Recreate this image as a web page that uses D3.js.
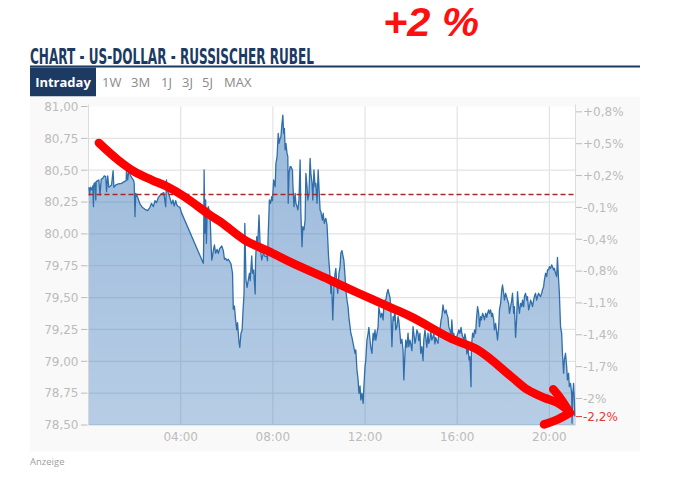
<!DOCTYPE html>
<html><head><meta charset="utf-8">
<script src="https://cdn.jsdelivr.net/npm/d3@7"></script>
<style>html,body{margin:0;padding:0;background:#fff;} svg{display:block;}</style>
</head><body>
<svg id="chart" width="680" height="492"></svg>
<script>
// ---------- data (minutes since 00:00, price RUB per USD) ----------
const quotes = [
[1,80.366],[3,80.305],[5,80.366],[8,80.345],[11,80.376],[13,80.214],[14,80.392],[17,80.402],[19,80.266],[20,80.410],
[24,80.418],[27,80.423],[30,80.305],[33,80.428],[37,80.436],[41,80.455],[45,80.449],[47,80.332],[50,80.455],[53,80.366],
[57,80.376],[60,80.384],[64,80.496],[66,80.366],[71,80.384],[78,80.392],[86,80.397],[93,80.410],[98,80.418],[99,80.502],
[102,80.423],[105,80.496],[109,80.462],[112,80.444],[117,80.423],[119,80.397],[121,80.135],[123,80.318],[128,80.287],[134,80.235],
[140,80.209],[147,80.193],[154,80.183],[160,80.209],[164,80.240],[169,80.214],[173,80.261],[177,80.245],[182,80.287],[189,80.313],
[196,80.324],[201,80.214],[203,80.423],[206,80.339],[210,80.305],[213,80.271],[216,80.235],[220,80.266],[223,80.219],[227,80.261],
[230,80.227],[234,80.214],[238,80.209],[242,80.167],[299,79.769],[300,79.952],[301,80.502],[303,80.005],[305,80.266],[307,79.926],
[309,80.188],[312,80.214],[315,80.175],
[317,80.109],[319,79.926],[321,79.795],[323,79.827],[326,79.887],[328,79.913],[331,79.848],[335,79.879],[338,79.848],[342,79.887],
[347,79.905],[351,79.869],[354,79.801],[357,79.808],[361,79.790],[364,79.801],[368,79.782],[371,79.764],[375,79.691],[377,79.408],
[380,79.434],[383,79.325],[386,79.246],[388,79.304],[392,79.146],[394,79.110],[397,79.220],[400,79.246],[402,79.377],[405,79.534],
[407,80.083],[410,79.638],[413,79.581],[416,79.638],[419,79.691],[421,79.633],[425,79.827],[427,79.691],[430,79.717],[434,79.528],
[435,79.795],[438,79.978],[440,79.874],[444,80.148],[447,79.900],[451,79.795],[455,79.848],[460,79.822],[464,79.827],[466,79.790],
[468,80.005],[471,80.266],[474,80.240],[477,80.292],[479,80.261],[482,80.423],[486,80.371],[488,80.554],[491,80.606],[494,80.789],
[496,80.711],[499,80.750],[501,80.763],[503,80.842],[506,80.933],[508,80.789],[510,80.829],[512,80.659],[514,80.711],[517,80.632],
[519,80.606],[520,80.240],[522,80.475],[525,80.528],[527,80.528],[531,80.502],[532,80.397],[535,80.214],[538,80.318],[540,80.240],
[543,80.214],[545,80.188],[548,80.266],[551,80.580],[553,80.162],[556,79.900],[558,80.057],[561,80.031],[564,80.109],[566,80.475],
[569,80.371],[571,80.266],[574,80.318],[577,80.593],[579,80.475],[582,80.397],[584,80.266],[587,80.502],[590,80.371],[592,80.397],
[595,80.240],[598,80.502],[600,80.371],[603,80.188],[605,80.175],[609,80.109],[611,80.162],[614,80.083],
[616,80.109],[618,80.122],[621,80.070],[623,79.952],[625,79.822],[627,79.743],[630,79.625],[631,79.534],[633,79.638],[635,79.429],
[636,79.325],[639,79.586],[642,79.691],[644,79.730],[647,79.586],[649,79.534],[652,79.691],[655,79.743],[657,79.848],[660,79.869],
[663,79.822],[665,79.790],[668,79.665],[670,79.560],[673,79.481],[676,79.424],[678,79.345],[681,79.272],[683,79.220],[686,79.188],
[689,79.141],[691,79.110],[694,79.063],[696,79.089],[699,78.932],[702,78.854],[704,78.749],[707,78.806],[709,78.697],[712,78.749],
[715,78.670],[717,78.801],[720,78.958],[722,79.011],[725,79.167],[728,79.220],[730,79.267],[733,79.167],[735,79.110],[738,79.063],
[741,79.220],[743,79.167],[746,79.246],[748,79.167],[751,79.220],[754,79.272],[756,79.424],[759,79.377],[761,79.345],[764,79.377],
[767,79.325],[769,79.429],[772,79.481],[774,79.481],[777,79.534],[780,79.565],[782,79.534],[785,79.502],[787,79.429],[790,79.115],
[793,79.351],[795,79.319],[798,79.403],[800,79.246],[803,79.272],[806,79.351],[808,79.319],[811,79.220],[813,79.141],[816,79.173],
[819,79.089],[821,78.854],[824,79.063],[826,79.167],[829,79.110],[832,79.220],[834,79.115],[837,79.167],[839,79.136],[842,79.084],
[845,79.272],[847,79.220],[850,79.141],[852,79.173],[855,79.246],[858,79.220],[860,79.162],[863,79.220],[865,79.063],[868,79.115],
[871,79.005],[873,79.167],[876,79.246],[878,79.194],[881,79.110],[884,79.220],[886,79.141],[889,79.173],[891,79.246],[894,79.167],
[897,79.194],[899,79.220],[902,79.136],[904,79.188],[907,79.162],[910,79.141],[912,79.220],[915,79.246],[918,79.325],[920,79.351],
[923,79.442],[925,79.403],
[928,79.377],[931,79.403],[933,79.372],[936,79.345],[938,79.272],[941,79.246],[944,79.194],[946,79.325],[949,79.167],[951,79.220],
[954,79.167],[957,79.136],[959,79.194],[962,79.220],[964,79.246],[967,79.220],[970,79.267],[972,79.220],[975,79.188],[978,79.167],
[980,79.215],[983,79.167],[985,79.058],[988,79.115],[991,79.011],[993,79.037],[996,78.801],[997,79.115],[1000,79.220],[1003,79.188],
[1005,79.246],[1008,79.220],[1010,79.325],[1013,79.429],[1016,79.377],[1018,79.272],[1021,79.351],[1023,79.325],[1026,79.377],[1029,79.351],
[1031,79.325],[1034,79.377],[1037,79.345],[1039,79.377],[1042,79.403],[1044,79.377],[1047,79.403],[1050,79.351],[1052,79.377],[1055,79.325],
[1057,79.246],[1060,79.298],[1063,79.220],[1065,79.167],[1068,79.272],[1070,79.403],[1073,79.455],[1076,79.560],[1078,79.599],[1081,79.534],
[1083,79.481],[1086,79.534],[1089,79.502],[1091,79.481],[1094,79.450],[1096,79.377],[1099,79.429],[1102,79.481],[1104,79.534],[1107,79.377],
[1109,79.429],[1112,79.188],[1115,79.351],[1117,79.547],[1120,79.429],[1122,79.377],[1125,79.455],[1128,79.429],[1130,79.481],[1133,79.429],
[1135,79.508],[1138,79.534],[1141,79.481],[1143,79.508],[1146,79.403],[1148,79.429],[1151,79.481],[1154,79.455],[1156,79.429],[1159,79.481],
[1161,79.508],[1164,79.534],[1167,79.481],[1169,79.508],[1172,79.534],[1174,79.521],[1177,79.508],[1180,79.534],[1182,79.560],[1185,79.586],
[1187,79.638],[1190,79.691],[1193,79.665],[1195,79.717],[1198,79.717],[1200,79.743],[1203,79.730],[1206,79.756],[1208,79.743],[1211,79.717],
[1213,79.730],[1216,79.691],[1219,79.665],[1221,79.816],[1224,79.638],[1226,79.534],[1229,79.272],[1232,79.220],[1234,79.063],[1237,78.906],
[1239,79.011],[1242,79.063],[1245,78.958],[1247,78.854],[1250,78.906],[1252,78.801],[1255,78.827],[1258,78.749],[1259,78.514],[1261,78.749],
[1263,78.827],[1265,78.697],[1266,78.566]
];
const prevClose = 80.31;
const timeDomain = [0, 1268];
const priceDomain = [78.5, 81];
const leftTicks = [78.5, 78.75, 79, 79.25, 79.5, 79.75, 80, 80.25, 80.5, 80.75, 81];
const leftTickLabels = ["78,50","78,75","79,00","79,25","79,50","79,75","80,00","80,25","80,50","80,75","81,00"];
const timeTicks = [240, 480, 720, 960, 1200];
const timeTickLabels = ["04:00","08:00","12:00","16:00","20:00"];
const pctTicks = [80.958, 80.708, 80.458, 80.208, 79.958, 79.708, 79.458, 79.208, 78.958, 78.708];
const pctTickLabels = ["+0,8%","+0,5%","+0,2%","-0,1%","-0,4%","-0,8%","-1,1%","-1,4%","-1,7%","-2%"];
const lastPctLabel = "-2,2%";
const tabs = ["Intraday","1W","3M","1J","3J","5J","MAX"];
const titleText = "CHART - US-DOLLAR - RUSSISCHER RUBEL";
const noteText = "+2 %";
const adText = "Anzeige";
// hand-drawn red trend sketch, in chart units [minute, price]
const trendSketch = [[27,80.714],[77,80.580],[121,80.486],[165,80.423],[207,80.368],[251,80.290],[316,80.148],[348,80.086],
  [407,79.952],[478,79.850],[530,79.772],[629,79.638],[702,79.536],[790,79.418],[842,79.347],[941,79.183],[1014,79.089],
  [1102,78.877],[1144,78.775],[1188,78.712],[1222,78.673],[1250,78.612]];
const arrowHeadA = [[1210,78.780],[1230,78.705],[1250,78.612]];
const arrowHeadB = [[1186,78.505],[1222,78.545],[1254,78.596]];

// ---------- layout ----------
const svg = d3.select("#chart");
const X0 = 88.5, X1 = 575.5, Y0 = 106.5, Y1 = 425;
const x = d3.scaleLinear().domain(timeDomain).range([X0, X1]);
const y = d3.scaleLinear().domain(priceDomain).range([Y1, Y0]);
const navy = "#1c3a62";
const axisGrey = "#bcbcbc";

// title
svg.append("text").attr("x", 30).attr("y", 63.5)
  .attr("font-family", "'Liberation Sans Narrow','DejaVu Sans Condensed',sans-serif")
  .attr("font-weight", "bold").attr("font-size", 21.5).attr("fill", navy)
  .attr("textLength", 284).attr("lengthAdjust", "spacingAndGlyphs").text(titleText);
svg.append("rect").attr("x", 30).attr("y", 65.5).attr("width", 610).attr("height", 2).attr("fill", navy);

// tabs
svg.append("rect").attr("x", 30).attr("y", 67.5).attr("width", 66).attr("height", 29).attr("fill", navy);
const tabX = [63, 102, 131, 161, 182, 202, 224];
svg.selectAll("text.tab").data(tabs).join("text").attr("class", "tab")
  .attr("x", (d, i) => tabX[i]).attr("y", 87)
  .attr("text-anchor", (d, i) => i === 0 ? "middle" : "start")
  .attr("font-family", "'Open Sans',sans-serif").attr("font-size", 13)
  .attr("font-weight", (d, i) => i === 0 ? "bold" : "normal")
  .attr("fill", (d, i) => i === 0 ? "#fff" : "#8a8a8a").text(d => d);

// panel
svg.append("rect").attr("x", 30).attr("y", 96.5).attr("width", 610).attr("height", 355).attr("fill", "#f9f9f9");
svg.append("rect").attr("x", X0).attr("y", Y0).attr("width", X1 - X0).attr("height", Y1 - Y0).attr("fill", "#ffffff");

// grid
const grid = svg.append("g").attr("stroke", "#e3e3e3").attr("stroke-width", 1.2);
grid.selectAll("line.h").data(leftTicks.filter(t => t < priceDomain[1])).join("line")
  .attr("x1", X0).attr("x2", X1).attr("y1", d => y(d)).attr("y2", d => y(d));
grid.selectAll("line.v").data(timeTicks).join("line").attr("class", "v")
  .attr("x1", d => x(d)).attr("x2", d => x(d)).attr("y1", Y0).attr("y2", Y1);
svg.append("line").attr("x1", X0).attr("x2", X0).attr("y1", Y0 - 2).attr("y2", Y1).attr("stroke", "#dcdcdc");
svg.append("line").attr("x1", X1).attr("x2", X1).attr("y1", Y0 - 2).attr("y2", Y1).attr("stroke", "#dcdcdc");
svg.append("line").attr("x1", X0).attr("x2", X1).attr("y1", Y1).attr("y2", Y1).attr("stroke", "#e0e0e0");

// area + line
const defs = svg.append("defs");
const grad = defs.append("linearGradient").attr("id", "ag").attr("gradientUnits", "userSpaceOnUse")
  .attr("x1", 0).attr("x2", 0).attr("y1", Y0).attr("y2", Y1);
grad.append("stop").attr("offset", 0).attr("stop-color", "rgb(60,120,185)").attr("stop-opacity", 0.52);
grad.append("stop").attr("offset", 1).attr("stop-color", "rgb(60,120,185)").attr("stop-opacity", 0.37);
const area = d3.area().x(d => x(d[0])).y0(Y1).y1(d => y(d[1]));
const line = d3.line().x(d => x(d[0])).y(d => y(d[1]));
svg.append("path").datum(quotes).attr("d", area).attr("fill", "url(#ag)");
svg.append("path").datum(quotes).attr("d", line).attr("fill", "none")
  .attr("stroke", "#2f6eab").attr("stroke-width", 1.3).attr("stroke-linejoin", "round");

// previous close
svg.append("line").attr("x1", X0).attr("x2", X1).attr("y1", y(prevClose)).attr("y2", y(prevClose))
  .attr("stroke", "#a82828").attr("stroke-width", 1.5).attr("stroke-dasharray", "5,3");

// left axis
const la = svg.append("g").attr("font-family", "'DejaVu Sans',sans-serif").attr("font-size", 12).attr("fill", axisGrey);
la.selectAll("line").data(leftTicks).join("line")
  .attr("x1", 81).attr("x2", 87.5).attr("y1", d => y(d)).attr("y2", d => y(d)).attr("stroke", axisGrey);
la.selectAll("text").data(leftTicks).join("text")
  .attr("x", 78.5).attr("y", d => y(d)).attr("dy", "0.36em").attr("text-anchor", "end")
  .text((d, i) => leftTickLabels[i]);

// bottom axis
svg.append("g").attr("font-family", "'DejaVu Sans',sans-serif").attr("font-size", 12).attr("fill", axisGrey)
  .selectAll("text").data(timeTicks).join("text")
  .attr("x", d => x(d)).attr("y", 440.5).attr("text-anchor", "middle").text((d, i) => timeTickLabels[i]);

// right axis
const ra = svg.append("g").attr("font-family", "'DejaVu Sans',sans-serif").attr("font-size", 12).attr("fill", axisGrey);
ra.selectAll("line").data(pctTicks).join("line")
  .attr("x1", X1 + 0.5).attr("x2", X1 + 6.5).attr("y1", d => y(d)).attr("y2", d => y(d)).attr("stroke", axisGrey);
ra.selectAll("text").data(pctTicks).join("text")
  .attr("x", X1 + 7.5).attr("y", d => y(d)).attr("dy", "0.36em").text((d, i) => pctTickLabels[i]);
const last = quotes[quotes.length - 1];
svg.append("line").attr("x1", X1 + 0.5).attr("x2", X1 + 6.5).attr("y1", y(last[1])).attr("y2", y(last[1])).attr("stroke", "#e53935");
svg.append("text").attr("x", X1 + 7.5).attr("y", y(last[1])).attr("dy", "0.36em")
  .attr("font-family", "'DejaVu Sans',sans-serif").attr("font-size", 12).attr("fill", "#e53935").text(lastPctLabel);

// ad label
svg.append("text").attr("x", 30).attr("y", 465).attr("font-family", "'Open Sans',sans-serif")
  .attr("font-size", 9.5).attr("fill", "#a0a0a0").text(adText);

// hand-drawn red annotation
const sketch = d3.line().x(d => x(d[0])).y(d => y(d[1])).curve(d3.curveCatmullRom);
[trendSketch, arrowHeadA, arrowHeadB].forEach(pts => {
  svg.append("path").datum(pts).attr("d", sketch).attr("fill", "none")
    .attr("stroke", "#ff0000").attr("stroke-width", 8.5)
    .attr("stroke-linecap", "round").attr("stroke-linejoin", "round");
});
svg.append("text").attr("x", 383).attr("y", 36)
  .attr("font-family", "'Liberation Sans',sans-serif").attr("font-weight", "bold").attr("font-style", "italic")
  .attr("font-size", 40).attr("fill", "#ff1010")
  .attr("textLength", 96).attr("lengthAdjust", "spacingAndGlyphs").text(noteText);
</script>
</body></html>
